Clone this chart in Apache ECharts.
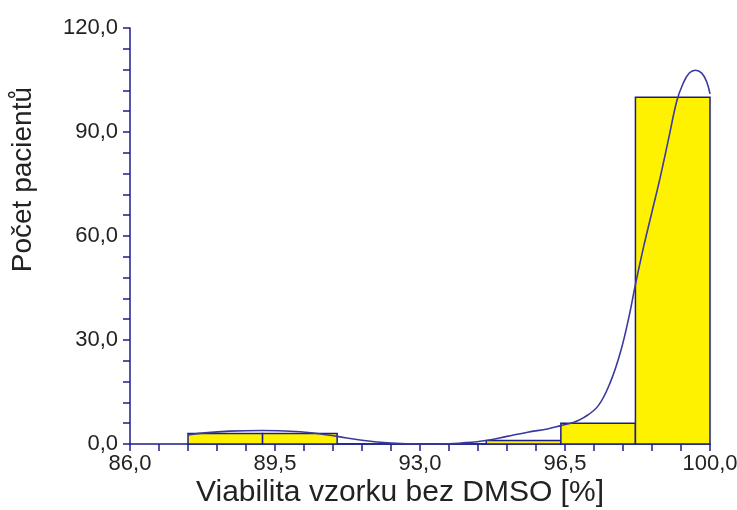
<!DOCTYPE html>
<html>
<head>
<meta charset="utf-8">
<script src="https://cdn.jsdelivr.net/npm/echarts@6/dist/echarts.min.js"></script>
<style>html,body{margin:0;padding:0;background:#fff}#c{width:737px;height:510px}</style>
</head>
<body>
<div id="c"></div>
<script>
// Histogram bins (start, end) and counts
var binStarts = [87.4, 89.2, 91.0, 92.8, 94.6, 96.4, 98.2];
var binEnds   = [89.2, 91.0, 92.8, 94.6, 96.4, 98.2, 100.0];
var counts    = [3, 3, 0, 0, 1, 6, 100];
// Fitted curve
var curveX = [87.4, 87.8, 88.4, 89.2, 90.0, 90.6, 91.0, 91.6, 92.3, 93.0, 93.5, 94.0, 94.6, 95.1, 95.6, 96.1, 96.4, 96.7, 96.95, 97.3, 97.6, 97.85, 98.05, 98.2, 98.4, 98.6, 98.8, 99.0, 99.2, 99.35, 99.5, 99.65, 99.8, 99.92, 100.0];
var curveY = [2.6, 3.2, 3.7, 3.9, 3.6, 2.9, 2.2, 1.1, 0.3, 0.0, 0.0, 0.3, 1.0, 2.2, 3.4, 4.4, 5.3, 6.2, 7.6, 11.0, 18.0, 27.0, 37.0, 46, 57, 67, 77, 88, 99, 104, 107, 107.8, 107, 104.5, 101];
var xTitle = 'Viabilita vzorku bez DMSO [%]';
var yTitle = 'Počet pacientů';

var barData = binStarts.map(function (s, i) { return [s, binEnds[i], counts[i]]; });
var lineData = curveX.map(function (x, i) { return [x, curveY[i]]; });
var navy = '#1c1c8c';
var fmt = function (v) { return v.toFixed(1).replace('.', ','); };

var chart = echarts.init(document.getElementById('c'));
chart.setOption({
  animation: false,
  backgroundColor: '#fff',
  textStyle: { fontFamily: 'Liberation Sans' },
  grid: { left: 130, right: 27, top: 28, bottom: 66, containLabel: false, outerBoundsMode: 'none' },
  xAxis: {
    type: 'value', min: 86, max: 100, interval: 3.5,
    axisLine: { lineStyle: { color: navy, width: 1.5 } },
    axisTick: { show: true, length: 7, lineStyle: { color: navy, width: 1.5 } },
    minorTick: { show: true, splitNumber: 5, length: 7, lineStyle: { color: navy, width: 1.5 } },
    splitLine: { show: false },
    axisLabel: { formatter: fmt, color: '#222', fontSize: 22, margin: 9, fontFamily: 'Liberation Sans' }
  },
  yAxis: {
    type: 'value', min: 0, max: 120, interval: 30,
    axisLine: { show: true, lineStyle: { color: navy, width: 1.5 } },
    axisTick: { show: true, length: 7, lineStyle: { color: navy, width: 1.5 } },
    minorTick: { show: true, splitNumber: 5, length: 7, lineStyle: { color: navy, width: 1.5 } },
    splitLine: { show: false },
    axisLabel: { formatter: fmt, color: '#222', fontSize: 22, margin: 12, fontFamily: 'Liberation Sans' }
  },
  graphic: [{
    type: 'text', left: 9, top: 87, rotation: Math.PI / 2,
    style: { text: yTitle, fill: '#222', font: '28px "Liberation Sans"' }
  }, {
    type: 'text', x: 400, y: 478,
    style: { text: xTitle, fill: '#222', font: '30px "Liberation Sans"', textAlign: 'center', textVerticalAlign: 'top' }
  }],
  series: [{
    type: 'custom',
    data: barData,
    encode: { x: [0, 1], y: 2 },
    renderItem: function (params, api) {
      var p0 = api.coord([api.value(0), 0]);
      var p1 = api.coord([api.value(1), api.value(2)]);
      return {
        type: 'rect',
        shape: { x: p0[0], y: p1[1], width: p1[0] - p0[0], height: p0[1] - p1[1] },
        style: { fill: '#fff200', stroke: navy, lineWidth: 1.5 }
      };
    },
    z: 2
  }, {
    type: 'line', data: lineData, smooth: 0.4, showSymbol: false,
    lineStyle: { color: '#3a3a9e', width: 1.6 }, z: 3
  }]
});
</script>
</body>
</html>
